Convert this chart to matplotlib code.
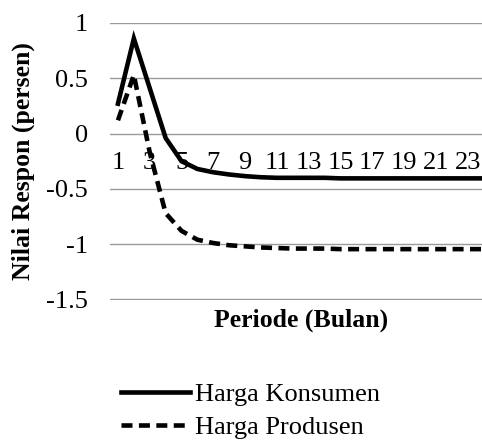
import matplotlib.pyplot as plt
import numpy as np

plt.rcParams['font.family'] = ['Liberation Serif', 'DejaVu Serif']

# data
periode = np.arange(1, 25)
harga_konsumen = [0.27, 0.86, 0.41, -0.04, -0.25, -0.32, -0.35, -0.37, -0.385, -0.395,
                  -0.40, -0.40, -0.40, -0.40, -0.405, -0.405, -0.405, -0.405, -0.405, -0.405,
                  -0.405, -0.405, -0.405, -0.405]
harga_produsen = [0.12, 0.53, -0.17, -0.72, -0.88, -0.96, -0.99, -1.01, -1.02, -1.03,
                  -1.035, -1.04, -1.04, -1.04, -1.045, -1.045, -1.045, -1.045, -1.045, -1.045,
                  -1.045, -1.045, -1.045, -1.045]
y_ticks = [1, 0.5, 0, -0.5, -1, -1.5]
y_labels = ["1", "0.5", "0", "-0.5", "-1", "-1.5"]
x_ticks = list(range(1, 24, 2))

W, H = 482, 447
fig = plt.figure(figsize=(W / 100, H / 100), dpi=100)
ax = fig.add_axes([110 / W, (H - 300) / H, 1 - 110 / W, (300 - 23) / H])

ax.plot(periode, harga_konsumen, color='black', lw=3.3, label='Harga Konsumen',
        solid_joinstyle='miter')
ax.plot(periode, harga_produsen, color='black', lw=3.3, linestyle=(0, (2.4, 1.4)),
        label='Harga Produsen')

ax.set_xlim(0.5, 23.9)
ax.set_ylim(-1.505, 1)
ax.set_yticks(y_ticks)
ax.set_yticklabels(y_labels)
ax.set_xticks(x_ticks)
ax.set_xticklabels([str(t) for t in x_ticks])
ax.yaxis.grid(True, color='#9a9a9a', lw=1)
ax.set_axisbelow(True)
for s in ['top', 'right', 'left']:
    ax.spines[s].set_visible(False)
ax.spines['bottom'].set_position(('data', 0))
ax.spines['bottom'].set_visible(False)
ax.tick_params(axis='y', length=0, pad=16, labelsize=19)
ax.tick_params(axis='x', length=0, pad=13, labelsize=19)

fig.text(23 / W, 1 - 161 / H, "Nilai Respon (persen)", rotation=90, fontsize=18.5,
         fontweight='bold', ha='center', va='center')
fig.text(301 / W, 1 - 320 / H, "Periode (Bulan)", fontsize=18.5, fontweight='bold',
         ha='center', va='center')

fig.legend(loc='center left', bbox_to_anchor=(121 / W, 1 - 411 / H), frameon=False,
           fontsize=19, handlelength=2.6, handletextpad=0.2, labelspacing=0.35,
           borderpad=0, borderaxespad=0)

fig.savefig("out.png", dpi=100)
